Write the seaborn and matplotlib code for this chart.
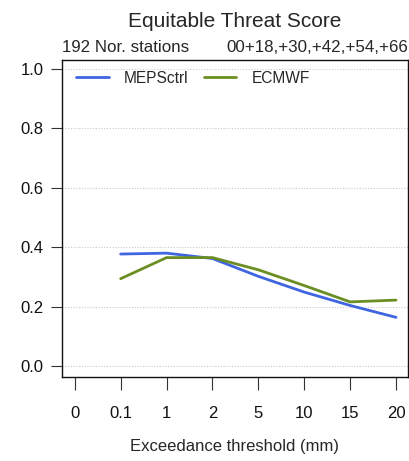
import matplotlib
matplotlib.use("Agg")
import matplotlib.pyplot as plt
import seaborn as sns
import pandas as pd

thresholds = ["0", "0.1", "1", "2", "5", "10", "15", "20"]
meps = [None, 0.377, 0.380, 0.362, 0.302, 0.249, 0.204, 0.164]
ecmwf = [None, 0.294, 0.365, 0.365, 0.324, 0.271, 0.216, 0.222]
models = ["MEPSctrl", "ECMWF"]
colors = ["#3f66e0", "#6b8e23"]

rows = []
for i, t in enumerate(thresholds):
    if meps[i] is not None:
        rows.append({"pos": i, "model": "MEPSctrl", "ets": meps[i]})
    if ecmwf[i] is not None:
        rows.append({"pos": i, "model": "ECMWF", "ets": ecmwf[i]})
daten = pd.DataFrame(rows)

sns.set_style("white")
plt.rcParams["font.family"] = ["Liberation Sans", "DejaVu Sans"]

fig = plt.figure(figsize=(4.1, 4.61), dpi=100)
ax = fig.add_axes([0.151, 0.182, 0.844, 0.688])

sns.lineplot(daten, x="pos", y="ets", hue="model", hue_order=models,
             palette=colors, linewidth=2, ax=ax)

for yv in [0, 0.2, 0.4, 0.6, 0.8, 1.0]:
    ax.axhline(yv, color="#cccccc", linestyle=(0, (1, 1.5)), linewidth=0.8, zorder=0)

ax.set_xlim(-0.28, 7.26)
ax.set_ylim(-0.037, 1.03)
ax.set_xticks(range(len(thresholds)))
ax.set_xticklabels(thresholds)
ax.set_yticks([0, 0.2, 0.4, 0.6, 0.8, 1.0])
ax.set_yticklabels(["0.0", "0.2", "0.4", "0.6", "0.8", "1.0"])
ax.tick_params(axis="both", direction="out", length=8, width=0.8, color="#333333",
               labelsize=12, labelcolor="#111111", pad=5, bottom=True, left=True)
ax.tick_params(axis="x", pad=12, length=9)
for s in ax.spines.values():
    s.set_color("#111111")
    s.set_linewidth(1.0)

ax.set_xlabel("Exceedance threshold (mm)", fontsize=12, labelpad=13)
ax.set_ylabel("")

ax.legend(loc="upper left", ncol=2, frameon=False, fontsize=11.2,
          handlelength=2.1, handletextpad=1.0, columnspacing=0.95,
          borderaxespad=0.5, bbox_to_anchor=(0.0, 1.01))

fig.text(0.573, 0.954, "Equitable Threat Score", ha="center", va="center", fontsize=15)
fig.text(0.151, 0.898, "192 Nor. stations", ha="left", va="center", fontsize=12.2)
fig.text(0.995, 0.898, "00+18,+30,+42,+54,+66", ha="right", va="center", fontsize=12.2)

plt.savefig("out.png", dpi=100)
